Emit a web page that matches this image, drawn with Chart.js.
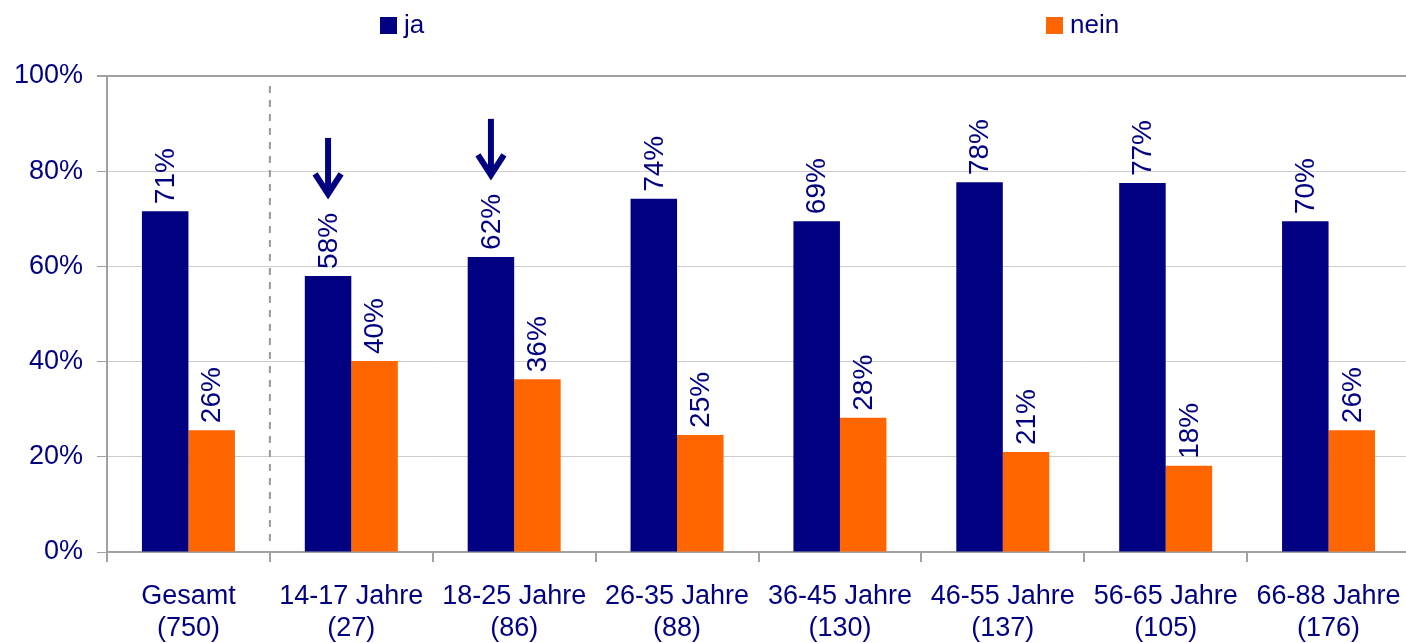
<!DOCTYPE html>
<html>
<head>
<meta charset="utf-8">
<script src="https://cdn.jsdelivr.net/npm/chart.js@4.4.1/dist/chart.umd.min.js"></script>
<style>
  html, body { margin: 0; padding: 0; background: #fff; overflow: hidden; }
  #wrap { width: 1410px; height: 643px; }
</style>
</head>
<body>
<div id="wrap"><canvas id="chart_ja_nein"></canvas></div>
<script>
// categories (two-line labels) and series
var categories = [
  ["Gesamt", "(750)"], ["14-17 Jahre", "(27)"], ["18-25 Jahre", "(86)"], ["26-35 Jahre", "(88)"],
  ["36-45 Jahre", "(130)"], ["46-55 Jahre", "(137)"], ["56-65 Jahre", "(105)"], ["66-88 Jahre", "(176)"]
];
var jaValues   = [71.6, 58.0, 62.0, 74.2, 69.5, 77.7, 77.5, 69.5];
var neinValues = [25.6, 40.1, 36.3, 24.6, 28.2, 21.0, 18.1, 25.6];
var jaLabels   = ["71%", "58%", "62%", "74%", "69%", "78%", "77%", "70%"];
var neinLabels = ["26%", "40%", "36%", "25%", "28%", "21%", "18%", "26%"];
var yTicks = [0, 20, 40, 60, 80, 100];
var arrowAt = [1, 2]; // categories marked with an arrow

var NAVY = "#000080", ORANGE = "#FF6600", FONT = "'Liberation Sans', Arial, sans-serif";

// rotated value labels, arrows, separator line and legend
var decorations = {
  id: "decorations",
  afterDatasetsDraw: function (chart) {
    var ctx = chart.ctx;
    var area = chart.chartArea;
    var labelSets = [jaLabels, neinLabels];
    ctx.save();
    ctx.fillStyle = NAVY;
    ctx.font = "28px " + FONT;
    ctx.textAlign = "left";
    ctx.textBaseline = "middle";
    chart.data.datasets.forEach(function (ds, di) {
      chart.getDatasetMeta(di).data.forEach(function (bar, i) {
        ctx.save();
        ctx.translate(bar.x + 1, bar.y - 7);
        ctx.rotate(-Math.PI / 2);
        ctx.fillText(labelSets[di][i], 0, 0);
        ctx.restore();
      });
    });

    // arrows above selected ja bars
    ctx.strokeStyle = NAVY;
    ctx.lineWidth = 6;
    ctx.lineCap = "butt";
    ctx.lineJoin = "miter";
    var jaMeta = chart.getDatasetMeta(0);
    arrowAt.forEach(function (i) {
      var bar = jaMeta.data[i];
      var tip = bar.y - 78;
      ctx.beginPath();
      ctx.moveTo(bar.x, tip - 60);
      ctx.lineTo(bar.x, tip - 4);
      ctx.stroke();
      ctx.beginPath();
      ctx.moveTo(bar.x - 13, tip - 24);
      ctx.lineTo(bar.x, tip - 4);
      ctx.lineTo(bar.x + 13, tip - 24);
      ctx.stroke();
    });

    // dashed separator after "Gesamt"
    var xs = chart.scales.x;
    var sepX = (xs.getPixelForValue(0) + xs.getPixelForValue(1)) / 2;
    ctx.strokeStyle = "#999999";
    ctx.lineWidth = 2;
    ctx.setLineDash([7, 7]);
    ctx.beginPath();
    ctx.moveTo(sepX, area.top + 10);
    ctx.lineTo(sepX, area.bottom - 6);
    ctx.stroke();
    ctx.setLineDash([]);

    // legend
    var items = [{ x: 380, text: chart.data.datasets[0].label, color: NAVY },
                 { x: 1046, text: chart.data.datasets[1].label, color: ORANGE }];
    ctx.font = "26px " + FONT;
    items.forEach(function (it) {
      ctx.fillStyle = it.color;
      ctx.fillRect(it.x, 17, 17, 17);
      ctx.fillStyle = NAVY;
      ctx.fillText(it.text, it.x + 24, 26);
    });
    ctx.restore();
  }
};

var ctx = document.getElementById("chart_ja_nein").getContext("2d");
var chart = new Chart(ctx, {
  type: "bar",
  data: {
    labels: categories,
    datasets: [
      { label: "ja", data: jaValues, backgroundColor: NAVY },
      { label: "nein", data: neinValues, backgroundColor: ORANGE }
    ]
  },
  options: {
    responsive: true,
    maintainAspectRatio: false,
    animation: false,
    datasets: { bar: { barPercentage: 1, categoryPercentage: 0.571 } },
    layout: { padding: { top: 76, right: 0, left: 0, bottom: 0 } },
    plugins: { legend: { display: false }, tooltip: { enabled: false } },
    scales: {
      x: {
        grid: { offset: true, drawOnChartArea: false, color: "#a0a0a0", tickLength: 10, lineWidth: 2 },
        border: { display: true, color: "#a0a0a0", width: 2 },
        ticks: { color: NAVY, font: { family: FONT, size: 27 }, padding: 18, maxRotation: 0, autoSkip: false },
        afterFit: function (scale) {
          scale.height = 91;
          scale.paddingLeft = 0;
          scale.paddingRight = 0;
        }
      },
      y: {
        min: 0, max: 100,
        afterBuildTicks: function (scale) { scale.ticks = yTicks.map(function (v) { return { value: v }; }); },
        grid: {
          color: function (c) { return c.tick && c.tick.value === 100 ? "#a0a0a0" : "#cccccc"; },
          lineWidth: function (c) { return c.tick && c.tick.value === 100 ? 2 : 1; },
          tickColor: "#a0a0a0",
          tickLength: 10
        },
        border: { display: true, color: "#a0a0a0", width: 2 },
        ticks: { color: NAVY, font: { family: FONT, size: 27 }, padding: 14, callback: function (v) { return v + "%"; } },
        afterFit: function (scale) { scale.width = 107; }
      }
    }
  },
  plugins: [decorations]
});
</script>
</body>
</html>
